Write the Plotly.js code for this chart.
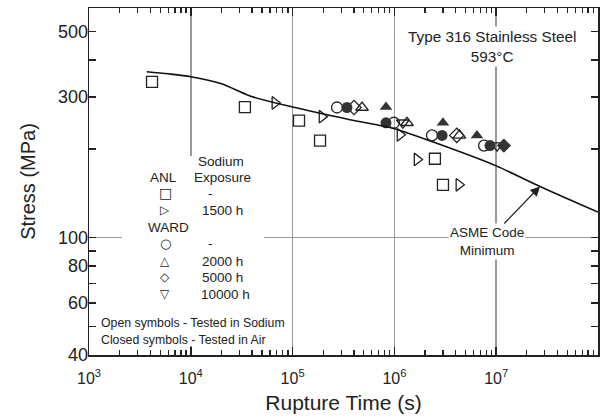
<!DOCTYPE html>
<html><head><meta charset="utf-8">
<script src="https://cdn.plot.ly/plotly-3.0.1.min.js"></script>
<style>html,body{margin:0;padding:0;background:#fff}#chart{width:609px;height:419px}</style>
</head><body><div id="chart"></div>
<script>
// ---- data (rupture time in s, stress in MPa) ----
const anlSodiumX = [4160, 34000, 115600, 186000, 2.5e6, 3.0e6];
const anlSodiumY = [337, 277, 249, 213, 185, 151];
const anl1500X = [67000, 194500, 1.135e6, 1.67e6, 4.3e6];
const anl1500Y = [286, 257, 223, 184, 151];
const wardSodiumX = [273000, 990000, 2.34e6, 7.6e6];
const wardSodiumY = [276, 245, 222, 205];
const ward2000X = [481000, 1.33e6, 4.35e6];
const ward2000Y = [276, 245, 222];
const ward5000X = [401000, 4.1e6];
const ward5000Y = [276, 222];
const ward10000X = [1.21e6, 1.02e7];
const ward10000Y = [245, 205];
const airX = [342000, 827000, 2.94e6, 8.7e6];
const airY = [276, 245, 222, 205];
const air2000X = [827000, 3.0e6, 6.47e6];
const air2000Y = [277, 245, 222];
const air5000X = [1.19e7];
const air5000Y = [205];
const asmeX = [3690, 6000, 1e4, 2e4, 3.82e4, 1e5, 3.66e5, 1e6, 3e6, 1e7, 2.69e7, 1e8];
const asmeY = [365, 359, 351, 332, 302, 277, 251, 234, 205, 175, 149, 122];

const xTickVals = [1e3, 1e4, 1e5, 1e6, 1e7, 1e8];
const xTickText = ['10<sup>3</sup>', '10<sup>4</sup>', '10<sup>5</sup>', '10<sup>6</sup>', '10<sup>7</sup>', '10<sup>8</sup>'];
const yTickVals = [40, 50, 60, 70, 80, 90, 100, 200, 300, 400, 500];
const yTickText = ['40', '', '60', '', '80', '', '100', '', '300', '', '500'];
const yGridVals = [100];

const xMinor = [];
for (let d = 3; d < 8; d++) for (let m = 2; m <= 9; m++) xMinor.push(m * Math.pow(10, d));

const INK = '#222';
const FONT = 'Liberation Sans, Arial, Helvetica, sans-serif';

function openTrace(x, y, sym) {
  return {x, y, type: 'scatter', mode: 'markers', xaxis: 'x', yaxis: 'y',
    marker: {symbol: sym + '-open', size: 11, color: INK, line: {width: 1.3, color: INK}}, hoverinfo: 'x+y'};
}
function closedTrace(x, y, sym) {
  return {x, y, type: 'scatter', mode: 'markers', xaxis: 'x', yaxis: 'y',
    marker: {symbol: sym, size: 11, color: '#333', line: {width: 0}}, hoverinfo: 'x+y'};
}

const traces = [
  {x: asmeX, y: asmeY, type: 'scatter', mode: 'lines', xaxis: 'x2', yaxis: 'y2',
   line: {color: '#111', width: 1.6, shape: 'spline', smoothing: 0.8}, hoverinfo: 'skip'},
  openTrace(anlSodiumX, anlSodiumY, 'square'),
  openTrace(anl1500X, anl1500Y, 'triangle-right'),
  openTrace(wardSodiumX, wardSodiumY, 'circle'),
  openTrace(ward2000X, ward2000Y, 'triangle-up'),
  openTrace(ward5000X, ward5000Y, 'diamond'),
  openTrace(ward10000X, ward10000Y, 'triangle-down'),
  closedTrace(airX, airY, 'circle'),
  closedTrace(air2000X, air2000Y, 'triangle-up'),
  closedTrace(air5000X, air5000Y, 'diamond')
];

// plot-area pixel helpers (plot box: left 89, right 598, top 8, bottom 355)
const PL = 89, PR = 598, PT = 8, PB = 355;
const px = v => (v - PL) / (PR - PL);
const py = v => (PB - v) / (PB - PT);

function note(text, x, y, size, opts) {
  return Object.assign({text, xref: 'paper', yref: 'paper', x: px(x), y: py(y),
    xanchor: 'center', yanchor: 'middle', showarrow: false,
    font: {family: FONT, size: size, color: INK}}, opts || {});
}
const SYM = 'DejaVu Sans, sans-serif';

const annotations = [
  note('Type 316 Stainless Steel<br>593°C', 492, 46, 15.3, {bgcolor: 'white'}),
  note('Sodium', 221, 161, 13.5),
  note('Exposure', 222, 177, 13.5),
  note('ANL', 163, 177, 13.5),
  note('□', 165, 193, 13, {font: {family: SYM, size: 14, color: INK}}),
  note('-', 210, 193, 13.5),
  note('▷', 165, 210, 13, {font: {family: SYM, size: 12, color: INK}}),
  note('1500 h', 222, 210, 13.5),
  note('WARD', 168, 227, 13.5),
  note('○', 165, 244, 13, {font: {family: SYM, size: 13, color: INK}}),
  note('-', 210, 244, 13.5),
  note('△', 165, 261, 13, {font: {family: SYM, size: 12, color: INK}}),
  note('2000 h', 222, 261, 13.5),
  note('◇', 165, 277, 13, {font: {family: SYM, size: 12, color: INK}}),
  note('5000 h', 222, 277, 13.5),
  note('▽', 165, 294, 13, {font: {family: SYM, size: 12, color: INK}}),
  note('10000 h', 225, 294, 13.5),
  note('Open symbols - Tested in Sodium', 99, 323, 12.3, {xanchor: 'left'}),
  note('Closed symbols - Tested in Air', 99, 340, 12.3, {xanchor: 'left'}),
  {text: 'ASME Code<br>Minimum', xref: 'x2', yref: 'y2', x: Math.log10(asmeX[10]), y: Math.log10(asmeY[10]),
   ax: -53, ay: 55, showarrow: true, arrowhead: 2, arrowsize: 1.6, arrowwidth: 1.2, arrowcolor: INK,
   bgcolor: 'white', font: {family: FONT, size: 13.5, color: INK}}
];

// white panel behind the key (hides gridlines there, as in the reference)
const shapes = [
  {type: 'rect', xref: 'paper', yref: 'paper', x0: px(122), x1: px(264), y0: py(346), y1: py(156),
   fillcolor: 'white', line: {width: 0}, layer: 'above'}
];

const yRange = [Math.log10(40), Math.log10(600)];

const layout = {
  width: 609, height: 419,
  margin: {l: PL, r: 609 - PR, t: PT, b: 419 - PB},
  paper_bgcolor: 'white', plot_bgcolor: 'white',
  font: {family: FONT, color: INK},
  showlegend: false,
  // main x: decades, labels, gridlines
  xaxis: {
    type: 'log', range: [3, 8], tickmode: 'array', tickvals: xTickVals, ticktext: xTickText,
    ticks: 'inside', ticklen: 8, tickwidth: 1.5, tickcolor: INK, ticklabelstandoff: 8,
    showline: true, linecolor: INK, linewidth: 1.5, mirror: 'ticks', zeroline: false,
    showgrid: true, gridcolor: '#9a9a9a', gridwidth: 1.5,
    tickfont: {family: FONT, size: 16, color: INK},
    title: {text: 'Rupture Time (s)', font: {family: FONT, size: 21, color: INK}, standoff: 9}
  },
  // overlay x: minor ticks only
  xaxis2: {
    type: 'log', range: [3, 8], overlaying: 'x', side: 'bottom', anchor: 'y2',
    tickmode: 'array', tickvals: xMinor, ticks: 'inside', ticklen: 5, tickwidth: 1.3, tickcolor: INK,
    showticklabels: false, showgrid: false, showline: false, zeroline: false, mirror: 'ticks'
  },
  // main y: frame + single gridline at 100
  yaxis: {
    type: 'log', range: yRange, tickmode: 'array', tickvals: yGridVals,
    ticks: '', showticklabels: false,
    showline: true, linecolor: INK, linewidth: 1.5, mirror: true, zeroline: false,
    showgrid: true, gridcolor: '#9a9a9a', gridwidth: 1.5,
    title: {text: 'Stress (MPa)', font: {family: FONT, size: 20, color: INK}, standoff: 46}
  },
  // overlay y: ticks and labels
  yaxis2: {
    type: 'log', range: yRange, overlaying: 'y', side: 'left', anchor: 'x2',
    tickmode: 'array', tickvals: yTickVals, ticktext: yTickText,
    ticks: 'inside', ticklen: 7, tickwidth: 1.5, tickcolor: INK, mirror: 'ticks',
    showgrid: false, showline: false, zeroline: false,
    tickfont: {family: FONT, size: 18, color: INK}
  },
  annotations, shapes
};

Plotly.newPlot('chart', traces, layout, {displayModeBar: false, staticPlot: true});
</script>
</body></html>
